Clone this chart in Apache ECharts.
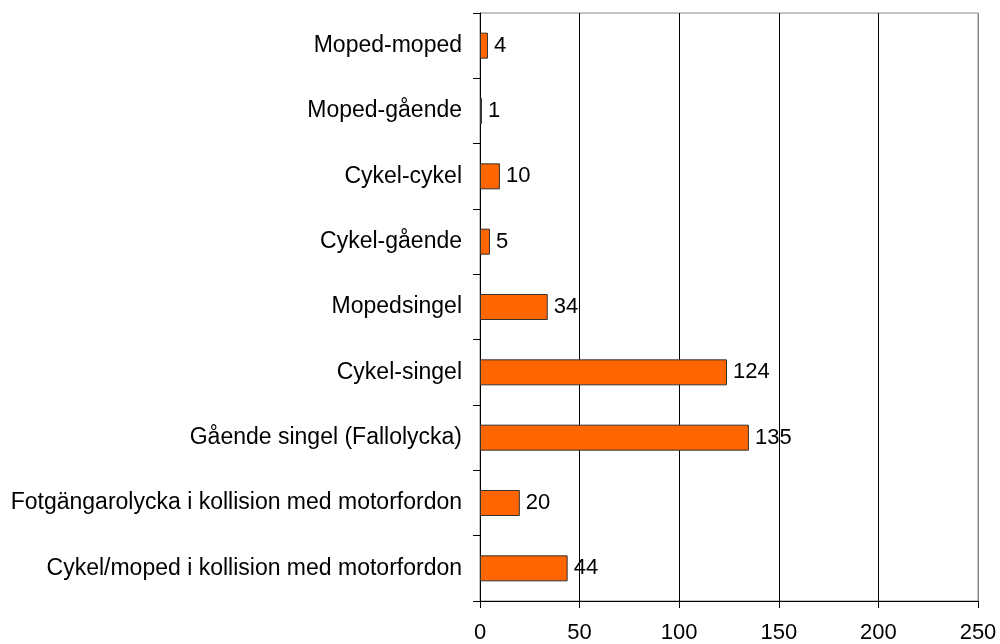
<!DOCTYPE html>
<html><head><meta charset="utf-8">
<script src="https://cdn.jsdelivr.net/npm/echarts@6/dist/echarts.min.js"></script>
<style>html,body{margin:0;padding:0;background:#fff}#c{width:1000px;height:644px}</style>
</head><body><div id="c"></div>
<script>
const categories = [
  "Moped-moped",
  "Moped-gående",
  "Cykel-cykel",
  "Cykel-gående",
  "Mopedsingel",
  "Cykel-singel",
  "Gående singel (Fallolycka)",
  "Fotgängarolycka i kollision med motorfordon",
  "Cykel/moped i kollision med motorfordon"
];
const values = [4, 1, 10, 5, 34, 124, 135, 20, 44];
const xTicks = [0, 50, 100, 150, 200, 250];

const font = "Liberation Sans, Arial, sans-serif";
const chart = echarts.init(document.getElementById('c'), null, {renderer: 'canvas'});
chart.setOption({
  animation: false,
  backgroundColor: '#fff',
  grid: {left: 480, right: 22, top: 13, bottom: 43, show: true, borderColor: '#8a8a8a', borderWidth: 1},
  xAxis: {
    type: 'value', min: xTicks[0], max: xTicks[xTicks.length - 1], interval: 50,
    axisLine: {show: true, lineStyle: {color: '#000', width: 1}},
    axisTick: {show: true, length: 7, lineStyle: {color: '#000'}},
    axisLabel: {color: '#000', fontSize: 22, fontFamily: font, margin: 21},
    splitLine: {show: true, lineStyle: {color: ['#000', '#000', '#000', '#000', '#000', '#8a8a8a'], width: 1}}
  },
  yAxis: {
    type: 'category', data: categories, inverse: true,
    axisLine: {show: true, lineStyle: {color: '#000', width: 1}},
    axisTick: {show: true, length: 7, alignWithLabel: false, lineStyle: {color: '#000'}},
    axisLabel: {color: '#000', fontSize: 23, fontFamily: font, margin: 18},
    splitLine: {show: false}
  },
  series: [{
    type: 'bar', data: values, barWidth: 26,
    itemStyle: {color: '#FF6600', borderColor: '#333', borderWidth: 1},
    label: {show: true, position: 'right', distance: 6, color: '#000', fontSize: 22, fontFamily: font}
  }]
});
</script></body></html>
